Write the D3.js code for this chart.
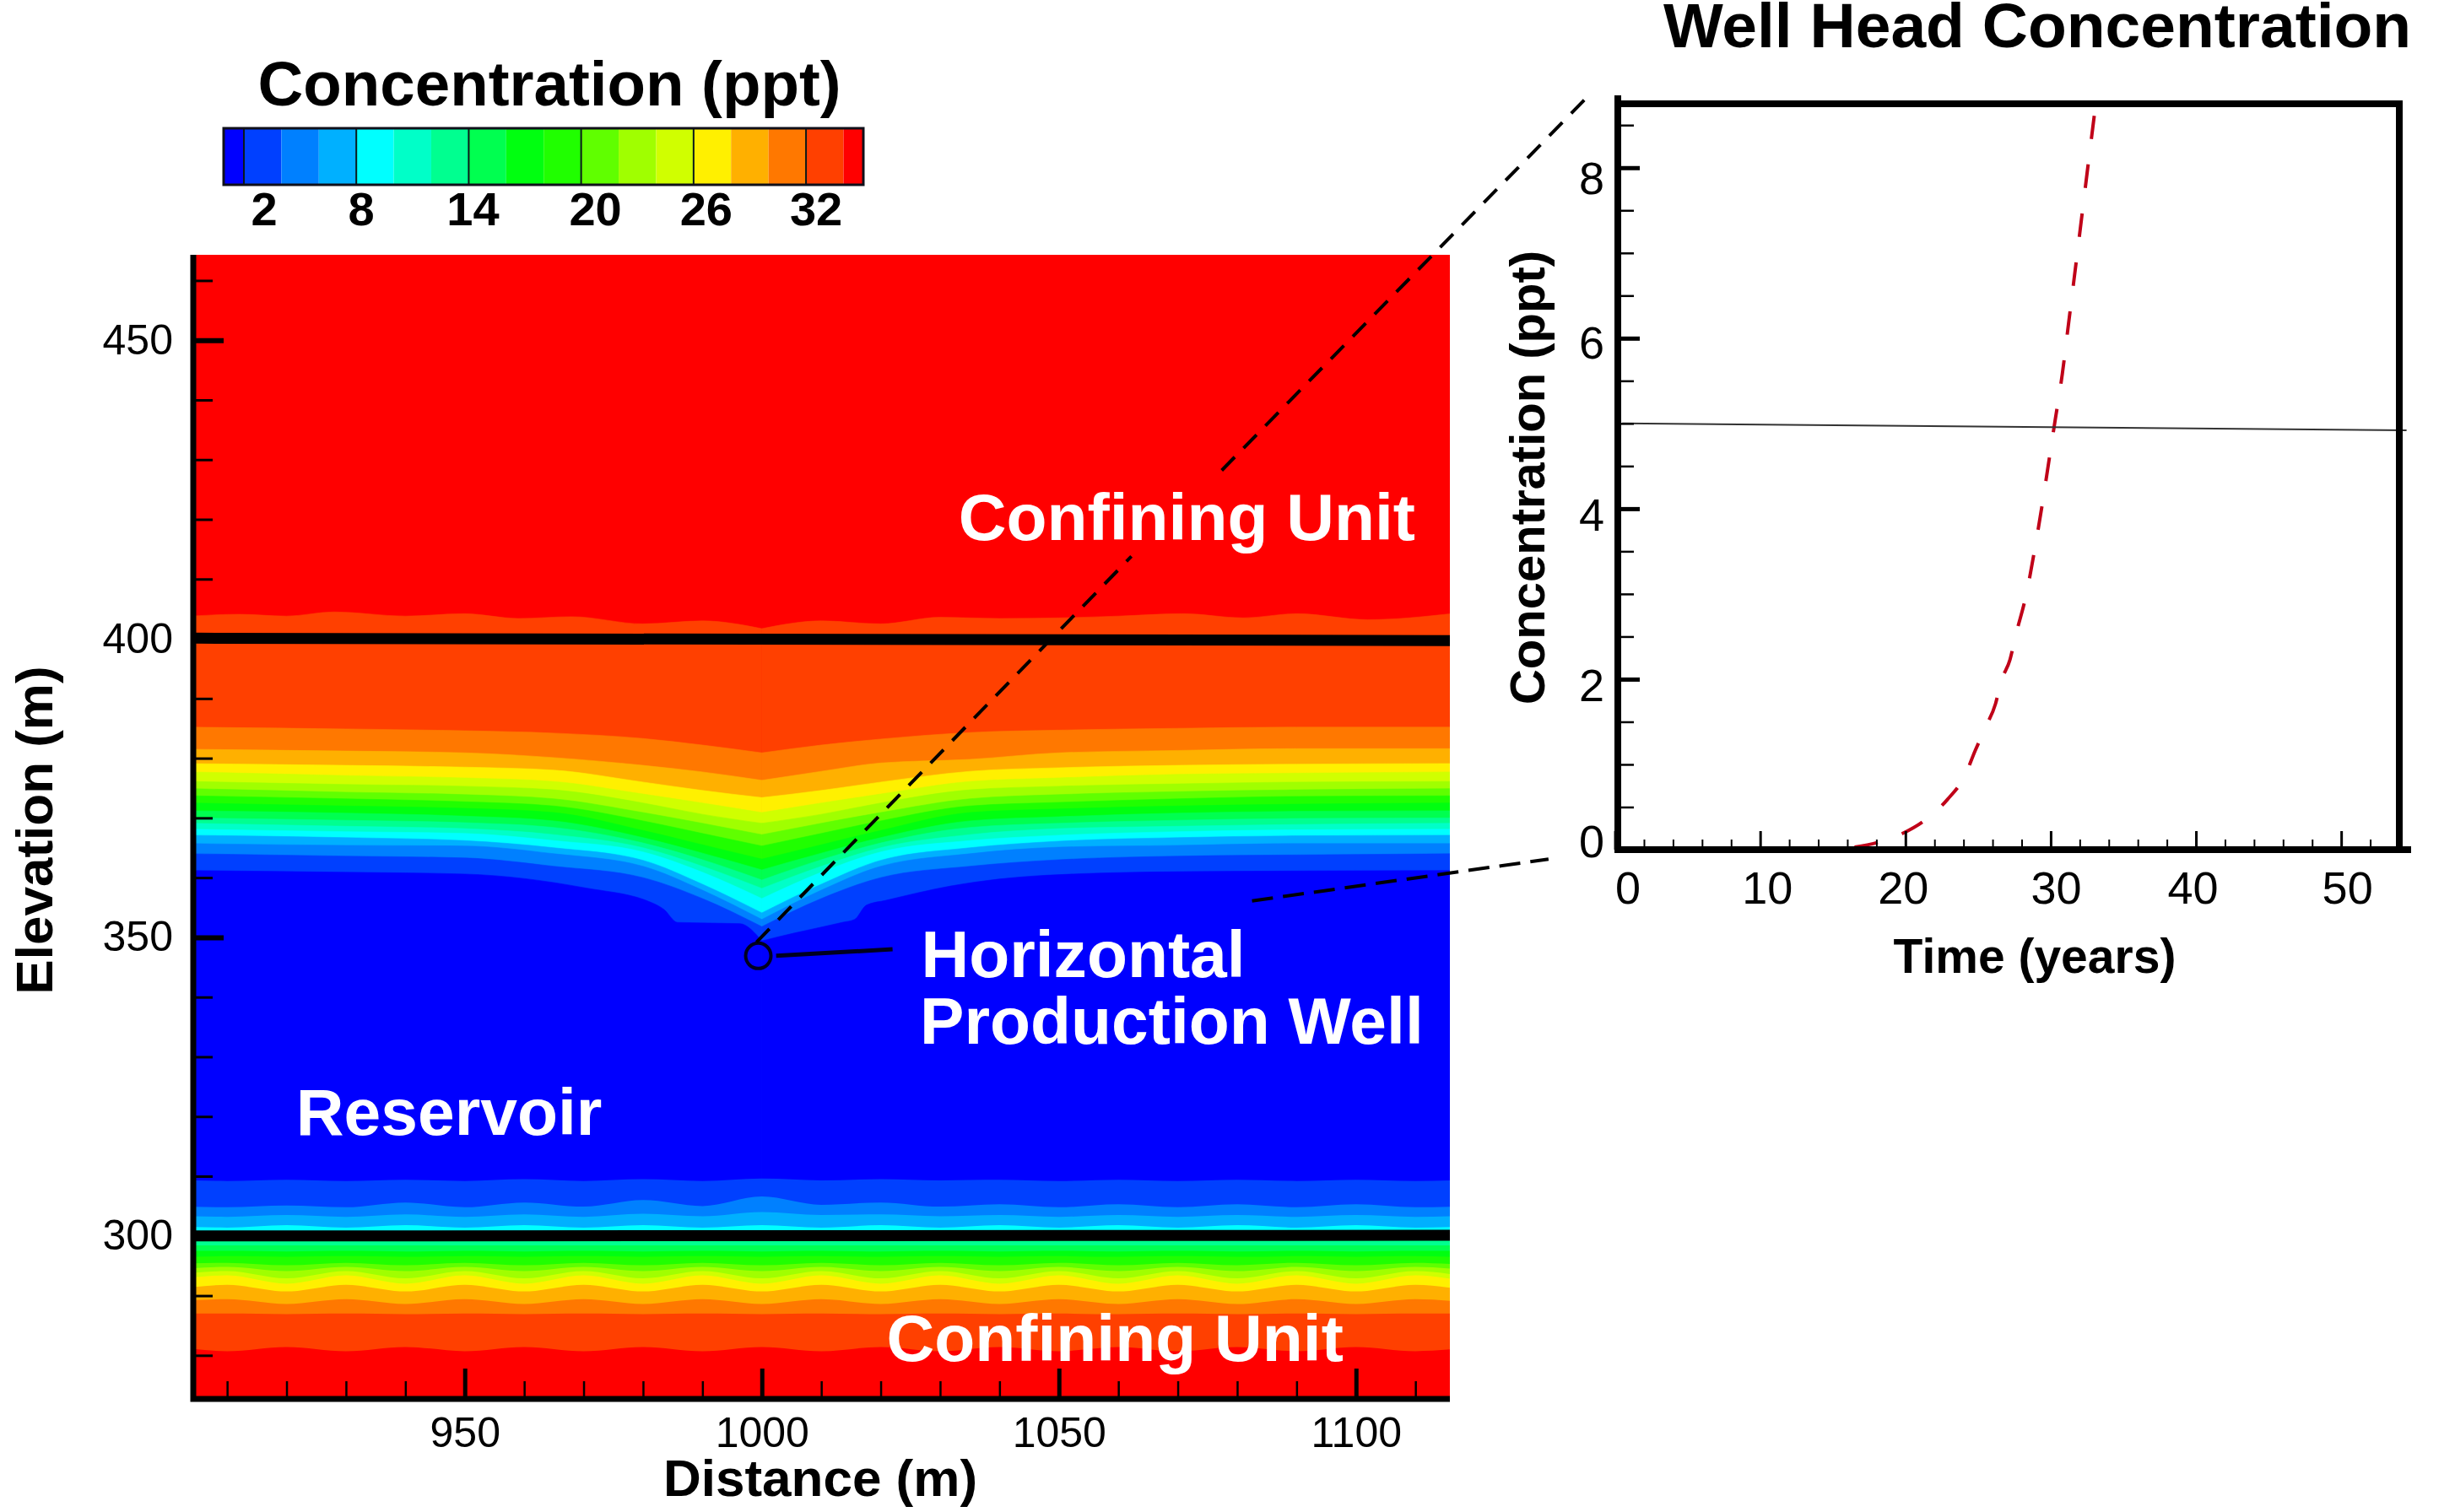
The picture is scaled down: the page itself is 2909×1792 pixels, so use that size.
<!DOCTYPE html>
<html>
<head>
<meta charset="utf-8">
<title>Well Head Concentration</title>
<script src="https://cdn.jsdelivr.net/npm/d3@7"></script>
<style>
  html, body { margin: 0; padding: 0; background: #fff; }
  svg { display: block; }
  text { font-family: "Liberation Sans", Arial, sans-serif; fill: #000; }
  .domain { display: none; }
</style>
</head>
<body>
<svg id="chart" width="2909" height="1792"></svg>
<script>
// --- DATA ---

// colour legend: contour levels (ppt) and the fill of each band, lowest first
const levels = [2, 4, 6, 8, 10, 12, 14, 16, 18, 20, 22, 24, 26, 28, 30, 32, 34];
const bandColors = ['#0000ff', '#0040ff', '#0080ff', '#00b0ff', '#00ffff', '#00ffc8', '#00ff90', '#00ff50',
  '#00ff10', '#20ff00', '#60ff00', '#a0ff00', '#d0ff00', '#fff000', '#ffb000', '#ff7800', '#ff4000', '#ff0000'];
const legendTicks = [2, 8, 14, 20, 26, 32];

// contours above the reservoir: elevation (m) of each level at upperDist (m)
const upperDist = [904, 930, 950, 965, 980, 990, 1000, 1010, 1020, 1035, 1050, 1070, 1090, 1116];
const upper32 = [385.2, 384.9, 384.6, 384.2, 383.3, 382.2, 380.9, 382.2, 383.2, 384.3, 384.7, 385.0, 385.2, 385.2];
const upper30 = [381.5, 381.2, 380.9, 380.1, 378.8, 377.7, 376.3, 377.8, 379.2, 379.8, 380.9, 381.3, 381.6, 381.6];
const upper28 = [379.1, 378.8, 378.5, 378.0, 376.0, 374.6, 373.4, 374.6, 376.0, 377.8, 378.4, 378.8, 379.0, 379.1];
const upper26 = [377.7, 377.1, 376.7, 376.1, 374.0, 372.5, 370.9, 372.5, 374.0, 376.1, 376.7, 377.3, 377.5, 377.7];
const upper24 = [376.1, 375.6, 375.3, 374.7, 372.5, 370.6, 369.1, 370.6, 372.5, 374.7, 375.3, 375.7, 376.0, 376.1];
const upper22 = [374.9, 374.3, 373.9, 373.2, 370.9, 369.1, 367.2, 369.1, 370.9, 373.2, 373.9, 374.4, 374.7, 374.9];
const upper20 = [373.7, 373.2, 372.7, 372.0, 369.5, 367.4, 365.3, 367.4, 369.5, 372.0, 372.6, 373.2, 373.6, 373.7];
const upper18 = [372.5, 372.0, 371.6, 370.9, 367.9, 365.5, 363.1, 365.5, 367.9, 370.9, 371.5, 372.0, 372.3, 372.5];
const upper16 = [371.2, 370.8, 370.3, 369.5, 366.7, 364.1, 361.3, 364.1, 366.7, 369.5, 370.2, 370.8, 371.1, 371.2];
const upper14 = [370.0, 369.6, 369.2, 368.4, 365.8, 363.0, 359.6, 363.0, 365.8, 368.4, 369.1, 369.6, 369.9, 370.0];
const upper12 = [369.1, 368.6, 368.2, 367.2, 365.0, 361.9, 358.2, 361.9, 365.0, 367.2, 368.2, 368.6, 368.9, 369.1];
const upper10 = [368.1, 367.7, 367.4, 366.2, 364.3, 360.9, 356.5, 360.9, 364.3, 366.2, 367.1, 367.7, 368.0, 368.1];
const upper8 = [367.1, 366.7, 366.2, 365.0, 362.9, 358.9, 354.1, 358.9, 362.9, 365.0, 366.1, 366.7, 367.0, 367.1];
const upper6 = [365.7, 365.4, 365.3, 364.0, 361.9, 357.9, 353.0, 357.9, 361.9, 364.0, 365.1, 365.4, 365.7, 365.7];
const upper4 = [364.0, 363.6, 363.3, 361.9, 360.0, 356.5, 351.8, 356.5, 360.0, 361.9, 363.0, 363.6, 363.8, 364.0];

// these two have their own sample points (wiggly top level, shouldered low level)
const upper34Dist = [904, 912, 920, 928, 940, 950, 959, 968, 980, 990, 1000, 1010, 1020, 1030, 1040, 1050, 1060, 1071, 1081, 1090, 1102, 1116];
const upper34 = [403.8, 404.1, 403.8, 404.5, 403.8, 404.2, 403.4, 403.7, 402.5, 403.0, 401.7, 403.0, 402.5, 403.6, 403.4, 403.5, 403.8, 404.2, 403.5, 404.2, 403.2, 404.2];
const upper2Dist = [904, 930, 950, 970.2, 981.5, 983.5, 985.8, 996.3, 1000, 1002.8, 1013.5, 1015.6, 1017.6, 1020.9, 1031.8, 1047.9, 1070.6, 1116];
const upper2 = [361.2, 360.9, 360.6, 358.3, 355.8, 354.7, 352.5, 352.3, 349.4, 350.1, 352.5, 353.0, 355.4, 356.2, 358.6, 360.4, 361.0, 361.2];

// contours below the reservoir: elevation (m) of each level at lowerDist (m)
const lowerDist = [904, 910, 920, 930, 940, 950, 960, 970, 980, 990, 1000, 1010, 1020, 1030, 1040, 1050, 1060, 1070, 1080, 1090, 1100, 1110, 1116];
const lower2 = [309.3, 309.2, 309.4, 309.2, 309.4, 309.2, 309.5, 309.2, 309.5, 309.2, 309.6, 309.3, 309.5, 309.3, 309.4, 309.2, 309.4, 309.2, 309.4, 309.2, 309.4, 309.2, 309.3];
const lower4 = [304.9, 304.8, 305.1, 304.8, 305.6, 304.8, 305.6, 304.9, 306.0, 305.0, 306.6, 305.2, 305.6, 304.9, 305.3, 304.8, 305.3, 304.8, 305.3, 304.8, 305.3, 304.8, 304.9];
const lower6 = [303.3, 303.2, 303.5, 303.2, 303.6, 303.2, 303.6, 303.2, 303.7, 303.3, 304.0, 303.5, 303.6, 303.3, 303.5, 303.2, 303.5, 303.2, 303.5, 303.2, 303.5, 303.2, 303.3];
const lower8 = [301.5, 301.4, 301.8, 301.4, 301.8, 301.4, 301.8, 301.4, 301.8, 301.4, 301.8, 301.4, 301.8, 301.4, 301.8, 301.4, 301.8, 301.4, 301.8, 301.4, 301.8, 301.4, 301.5];
const lower10 = [300.4, 300.4, 300.4, 300.4, 300.4, 300.4, 300.4, 300.4, 300.4, 300.4, 300.4, 300.4, 300.4, 300.4, 300.4, 300.4, 300.4, 300.4, 300.4, 300.4, 300.4, 300.4, 300.4];
const lower12 = [299.6, 299.6, 299.6, 299.6, 299.6, 299.6, 299.6, 299.6, 299.6, 299.6, 299.6, 299.6, 299.6, 299.6, 299.6, 299.6, 299.6, 299.6, 299.6, 299.6, 299.6, 299.6, 299.6];
const lower14 = [298.4, 298.4, 298.4, 298.4, 298.4, 298.4, 298.4, 298.4, 298.4, 298.4, 298.4, 298.4, 298.4, 298.4, 298.4, 298.4, 298.4, 298.4, 298.4, 298.4, 298.4, 298.4, 298.4];
const lower16 = [297.5, 297.5, 297.4, 297.5, 297.4, 297.5, 297.4, 297.5, 297.4, 297.5, 297.4, 297.5, 297.4, 297.5, 297.4, 297.5, 297.4, 297.5, 297.4, 297.5, 297.4, 297.5, 297.5];
const lower18 = [296.5, 296.6, 296.5, 296.6, 296.5, 296.6, 296.5, 296.6, 296.5, 296.6, 296.5, 296.6, 296.5, 296.6, 296.5, 296.6, 296.5, 296.6, 296.5, 296.6, 296.5, 296.6, 296.5];
const lower20 = [295.4, 295.5, 295.1, 295.5, 295.1, 295.5, 295.1, 295.5, 295.1, 295.5, 295.1, 295.5, 295.1, 295.5, 295.1, 295.5, 295.1, 295.5, 295.1, 295.5, 295.1, 295.5, 295.3];
const lower22 = [294.6, 294.8, 294.1, 294.8, 294.1, 294.8, 294.1, 294.8, 294.1, 294.8, 294.1, 294.8, 294.1, 294.8, 294.1, 294.8, 294.1, 294.8, 294.1, 294.8, 294.1, 294.8, 294.5];
const lower24 = [293.8, 294.1, 292.9, 294.1, 292.9, 294.1, 292.9, 294.1, 292.9, 294.1, 292.9, 294.1, 292.9, 294.1, 292.9, 294.1, 292.9, 294.1, 292.9, 294.1, 292.9, 294.1, 293.6];
const lower26 = [293.0, 293.4, 292.0, 293.4, 292.0, 293.4, 292.0, 293.4, 292.0, 293.4, 292.0, 293.4, 292.0, 293.4, 292.0, 293.4, 292.0, 293.4, 292.0, 293.4, 292.0, 293.4, 292.8];
const lower28 = [291.4, 291.8, 290.7, 291.8, 290.7, 291.8, 290.7, 291.8, 290.7, 291.8, 290.7, 291.8, 290.7, 291.8, 290.7, 291.8, 290.7, 291.8, 290.7, 291.8, 290.7, 291.8, 291.3];
const lower30 = [289.2, 289.4, 288.6, 289.4, 288.6, 289.4, 288.6, 289.4, 288.6, 289.4, 288.6, 289.4, 288.6, 289.4, 288.6, 289.4, 288.6, 289.4, 288.6, 289.4, 288.6, 289.4, 289.1];
const lower32 = [287.0, 287.0, 286.9, 287.0, 286.9, 287.0, 286.9, 287.0, 286.9, 287.0, 286.9, 287.0, 286.9, 287.0, 286.9, 287.0, 286.9, 287.0, 286.9, 287.0, 286.9, 287.0, 287.0];
const lower34 = [281.1, 280.7, 281.4, 280.7, 281.4, 280.7, 281.4, 280.7, 281.4, 280.7, 281.4, 280.7, 281.4, 280.7, 281.4, 280.7, 281.4, 280.7, 281.4, 280.7, 281.4, 280.7, 281.0];

// unit boundaries (thick black lines) and the well
const boundaryDist = [904.3, 1115.8];
const boundaryTop = [400.1, 399.7];
const boundaryBottom = [300.0, 300.1];
const wellDist = 999.4;
const wellElev = 346.9;

// well head curve
const curveTime = [16.5, 18, 19.8, 21.3, 22.9, 24.1, 24.8, 25.5, 26.2, 26.6, 27.2, 27.6, 28.3, 29.1, 30.3, 30.8, 31.2, 31.6, 32, 32.4, 33];
const curveConc = [0.03, 0.08, 0.19, 0.34, 0.59, 0.87, 1.16, 1.43, 1.71, 1.98, 2.23, 2.52, 2.98, 3.72, 5.03, 5.58, 6.13, 6.68, 7.23, 7.79, 8.61];
const limitTime = [0.5, 54.5];
const limitConc = [5.0, 4.92];

// axis ticks
const distMajor = [950, 1000, 1050, 1100];
const distMinor = [910, 920, 930, 940, 960, 970, 980, 990, 1010, 1020, 1030, 1040, 1060, 1070, 1080, 1090, 1110];
const elevMajor = [300, 350, 400, 450];
const elevMinor = [280, 290, 310, 320, 330, 340, 360, 370, 380, 390, 410, 420, 430, 440, 460];
const timeMajor = [0, 10, 20, 30, 40, 50];
const timeMinor = [2, 4, 6, 8, 12, 14, 16, 18, 22, 24, 26, 28, 32, 34, 36, 38, 42, 44, 46, 48, 52];
const concMajor = [0, 2, 4, 6, 8];
const concMinor = [0.5, 1, 1.5, 2.5, 3, 3.5, 4.5, 5, 5.5, 6.5, 7, 7.5, 8.5];

// --- LAYOUT ---
const svg = d3.select('#chart');
const x = d3.scaleLinear().domain([904.3, 1115.8]).range([229, 1718]);
const y = d3.scaleLinear().domain([272.7, 464.3]).range([1658, 302]);
const t = d3.scaleLinear().domain([0.2, 54]).range([1917, 2843]);
const c = d3.scaleLinear().domain([0, 8.75]).range([1007, 123]);
const legendX = d3.scaleLinear().domain([0.92, 35.06]).range([265, 1023]);

// hand placed offsets of the printed labels from their ticks
const legendLabelNudge = [24, 6, 5, 17, 15, 12];
const timeLabelNudge = [15, 8, -3, 6, -4, 7];
const concLabelNudge = [-15, 2, 2, 0, 7];

// --- CONTOUR PLOT ---
svg.append('clipPath').attr('id', 'plotClip').append('rect')
  .attr('x', x.range()[0]).attr('y', y.range()[1])
  .attr('width', x.range()[1] - x.range()[0]).attr('height', y.range()[0] - y.range()[1]);

const plot = svg.append('g').attr('clip-path', 'url(#plotClip)');
plot.append('rect')
  .attr('x', x.range()[0]).attr('y', y.range()[1])
  .attr('width', x.range()[1] - x.range()[0]).attr('height', y.range()[0] - y.range()[1])
  .attr('fill', bandColors[17]);

function drawBand(dist, elev, color) {
  const area = d3.area()
    .curve(d3.curveMonotoneX)
    .x(d => x(d[0]))
    .y0(y(272))
    .y1(d => y(d[1]));
  const pts = dist.map((d, i) => [d, elev[i]]);
  // the contours come to a sharp V over the well, so each side gets its own curve
  const split = dist.indexOf(1000);
  const parts = split > 0 ? [pts.slice(0, split + 1), pts.slice(split)] : [pts];
  parts.forEach(part => {
    plot.append('path').attr('d', area(part))
      .attr('fill', color).attr('stroke', color).attr('stroke-width', 0.6);
  });
}

// upper levels are painted from the top down, each fill reaching into the reservoir
const upperRows = [
  [34, upper34Dist, upper34], [32, upperDist, upper32], [30, upperDist, upper30], [28, upperDist, upper28],
  [26, upperDist, upper26], [24, upperDist, upper24], [22, upperDist, upper22], [20, upperDist, upper20],
  [18, upperDist, upper18], [16, upperDist, upper16], [14, upperDist, upper14], [12, upperDist, upper12],
  [10, upperDist, upper10], [8, upperDist, upper8], [6, upperDist, upper6], [4, upperDist, upper4], [2, upper2Dist, upper2]
];
upperRows.forEach(([level, dist, elev]) => {
  drawBand(dist, elev, bandColors[levels.indexOf(level)]);
});

// lower levels go the other way, from the reservoir down to the bottom of the plot
const lowerRows = [
  [2, lower2], [4, lower4], [6, lower6], [8, lower8], [10, lower10], [12, lower12], [14, lower14], [16, lower16], [18, lower18],
  [20, lower20], [22, lower22], [24, lower24], [26, lower26], [28, lower28], [30, lower30], [32, lower32], [34, lower34]
];
lowerRows.forEach(([level, elev]) => {
  // no split needed down here, these wiggle gently
  const area = d3.area().curve(d3.curveMonotoneX).x((d, i) => x(lowerDist[i])).y0(y(272)).y1(d => y(d));
  plot.append('path').attr('d', area(elev)).attr('fill', bandColors[levels.indexOf(level) + 1]);
});

const boundaryLine = d3.line().x((d, i) => x(boundaryDist[i])).y(d => y(d));
[boundaryTop, boundaryBottom].forEach(b => {
  plot.append('path').attr('d', boundaryLine(b)).attr('fill', 'none').attr('stroke', '#000').attr('stroke-width', 13);
});

// --- AXES ---
function styleTicks(g, width) {
  g.selectAll('.tick line').attr('stroke', '#000').attr('stroke-width', width);
}
function styleLabels(g, size) {
  g.selectAll('.tick text').attr('font-size', size).attr('fill', '#000').style('font-family', '"Liberation Sans", Arial, sans-serif');
}

const mainBottom = svg.append('g').attr('transform', `translate(0,${y.range()[0]})`);
mainBottom.append('g').call(d3.axisBottom(x).tickValues(distMinor).tickFormat('').tickSize(-21)).call(styleTicks, 2.5);
mainBottom.append('g').call(d3.axisBottom(x).tickValues(distMajor).tickFormat(d3.format('d')).tickSize(-36).tickPadding(21))
  .call(styleTicks, 5).call(styleLabels, 50);

const mainLeft = svg.append('g').attr('transform', `translate(${x.range()[0]},0)`);
mainLeft.append('g').call(d3.axisLeft(y).tickValues(elevMinor).tickFormat('').tickSize(-23)).call(styleTicks, 3);
mainLeft.append('g').call(d3.axisLeft(y).tickValues(elevMajor).tickFormat(d3.format('d')).tickSize(-36).tickPadding(24))
  .call(styleTicks, 6).call(styleLabels, 50);

// only the left and bottom spines are drawn on this panel
svg.append('path')
  .attr('d', d3.line()([[x.range()[0], y.range()[1]], [x.range()[0], y.range()[0]], [x.range()[1], y.range()[0]]]))
  .attr('fill', 'none').attr('stroke', '#000').attr('stroke-width', 7);

svg.append('text').attr('x', 972).attr('y', 1773).attr('text-anchor', 'middle')
  .attr('font-size', 62).attr('font-weight', 'bold').text('Distance (m)');
svg.append('text').attr('transform', 'translate(62,984) rotate(-90)').attr('text-anchor', 'middle')
  .attr('font-size', 62).attr('font-weight', 'bold').text('Elevation (m)');

// --- COLOUR LEGEND ---
const legendTop = 152;
const legendHeight = 67;
const bandEdges = [legendX.domain()[0], ...levels, legendX.domain()[1]];
svg.append('g').selectAll('rect').data(bandColors).join('rect')
  .attr('x', (d, i) => legendX(bandEdges[i]))
  .attr('y', legendTop)
  .attr('width', (d, i) => legendX(bandEdges[i + 1]) - legendX(bandEdges[i]))
  .attr('height', legendHeight)
  .attr('fill', d => d);
svg.append('g').selectAll('line').data(legendTicks).join('line')
  .attr('x1', d => legendX(d)).attr('x2', d => legendX(d))
  .attr('y1', legendTop).attr('y2', legendTop + legendHeight)
  .attr('stroke', '#0a1a1a').attr('stroke-width', 2);
svg.append('rect')
  .attr('x', legendX.range()[0]).attr('y', legendTop)
  .attr('width', legendX.range()[1] - legendX.range()[0]).attr('height', legendHeight)
  .attr('fill', 'none').attr('stroke', '#10101a').attr('stroke-width', 3);
svg.append('g').selectAll('text').data(legendTicks).join('text')
  .attr('x', (d, i) => legendX(d) + legendLabelNudge[i])
  .attr('y', 267)
  .attr('text-anchor', 'middle')
  .attr('font-size', 56).attr('font-weight', 'bold')
  .text(d => d);
svg.append('text').attr('x', 651).attr('y', 125).attr('text-anchor', 'middle')
  .attr('font-size', 74.5).attr('font-weight', 'bold').text('Concentration (ppt)');

// --- WELL AND LEADERS ---
svg.append('circle')
  .attr('cx', x(wellDist)).attr('cy', y(wellElev)).attr('r', 15)
  .attr('fill', 'none').attr('stroke', '#000020').attr('stroke-width', 4);
svg.append('path')
  .attr('d', d3.line().x(d => x(d[0])).y(d => y(d[1]))([[1002.4, 346.9], [1022, 348]]))
  .attr('fill', 'none').attr('stroke', '#000020').attr('stroke-width', 5);

const leader = d3.line().x(d => x(d[0])).y(d => y(d[1]));
const leaderSegments = [
  { pts: [[999.1, 349.2], [1062.2, 413.8]], dash: '22 15' },
  { pts: [[1077.4, 428.2], [1138.9, 490.7]], dash: '22 15' },
  { pts: [[1082.5, 356.1], [1132.4, 363.1]], dash: '25 12' }
];
svg.append('g').selectAll('path').data(leaderSegments).join('path')
  .attr('d', d => leader(d.pts))
  .attr('fill', 'none').attr('stroke', '#000').attr('stroke-width', 4)
  .attr('stroke-dasharray', d => d.dash);

// --- REGION LABELS ---
const regionLabels = [
  { text: 'Confining Unit', at: [1033.1, 416.6] },
  { text: 'Confining Unit', at: [1021, 279.0] },
  { text: 'Horizontal', at: [1026.8, 343.4] },
  { text: 'Production Well', at: [1026.6, 332.2] },
  { text: 'Reservoir', at: [921.6, 316.9] }
];
svg.append('g').selectAll('text').data(regionLabels).join('text')
  .attr('x', d => x(d.at[0])).attr('y', d => y(d.at[1]))
  .attr('font-size', 78.6).attr('font-weight', 'bold')
  .style('fill', '#fff')
  .text(d => d.text);

// --- WELL HEAD PANEL ---
const curveLine = d3.line().x((d, i) => t(curveTime[i])).y(d => c(d)).curve(d3.curveMonotoneX);
const curvePath = svg.append('path').attr('d', curveLine(curveConc))
  .attr('fill', 'none').attr('stroke', '#c00018').attr('stroke-width', 4);
// dashes start and end on a dash, as in the original curve
const curveLen = curvePath.node().getTotalLength();
const curvePeriod = (curveLen - 28) / Math.round((curveLen - 28) / 57);
curvePath.attr('stroke-dasharray', `28 ${curvePeriod - 28}`);
const limitLine = d3.line().x((d, i) => t(limitTime[i])).y(d => c(d));
svg.append('path').attr('d', limitLine(limitConc))
  .attr('fill', 'none').attr('stroke', '#333').attr('stroke-width', 2);

const panelBottom = svg.append('g').attr('transform', `translate(0,${c.range()[0]})`);
panelBottom.append('g').call(d3.axisBottom(t).tickValues(timeMinor).tickFormat('').tickSize(-12)).call(styleTicks, 2);
panelBottom.append('g').call(d3.axisBottom(t).tickValues(timeMajor).tickFormat(d3.format('d')).tickSize(-22).tickPadding(26))
  .call(styleTicks, 3).call(styleLabels, 54);
panelBottom.selectAll('.tick text').filter(d => timeMajor.includes(d))
  .attr('dx', d => timeLabelNudge[timeMajor.indexOf(d)]);

const panelLeft = svg.append('g').attr('transform', `translate(${t.range()[0]},0)`);
panelLeft.append('g').call(d3.axisLeft(c).tickValues(concMinor).tickFormat('').tickSize(-19)).call(styleTicks, 2.5);
panelLeft.append('g').call(d3.axisLeft(c).tickValues(concMajor).tickFormat(d3.format('d')).tickSize(-26).tickPadding(16))
  .call(styleTicks, 5).call(styleLabels, 54);
panelLeft.selectAll('.tick text').filter(d => concMajor.includes(d))
  .attr('dy', '0.43em')
  .attr('transform', d => `translate(0,${concLabelNudge[concMajor.indexOf(d)]})`);

// panel frame, the left and bottom sides run slightly past the corners
svg.append('path')
  .attr('d', d3.line()([[t.range()[0], 113], [t.range()[0], c.range()[0]], [2857, c.range()[0]]]))
  .attr('fill', 'none').attr('stroke', '#000').attr('stroke-width', 8);
svg.append('path')
  .attr('d', d3.line()([[t.range()[0], c.range()[1]], [t.range()[1], c.range()[1]], [t.range()[1], c.range()[0]]]))
  .attr('fill', 'none').attr('stroke', '#000').attr('stroke-width', 8);

svg.append('text').attr('x', 2411).attr('y', 1153).attr('text-anchor', 'middle')
  .attr('font-size', 57).attr('font-weight', 'bold').text('Time (years)');
svg.append('text').attr('transform', 'translate(1830,566) rotate(-90)').attr('text-anchor', 'middle')
  .attr('font-size', 58).attr('font-weight', 'bold').text('Concentration (ppt)');
svg.append('text').attr('x', 2414).attr('y', 56).attr('text-anchor', 'middle')
  .attr('font-size', 75).attr('font-weight', 'bold').text('Well Head Concentration');
</script>
</body>
</html>
